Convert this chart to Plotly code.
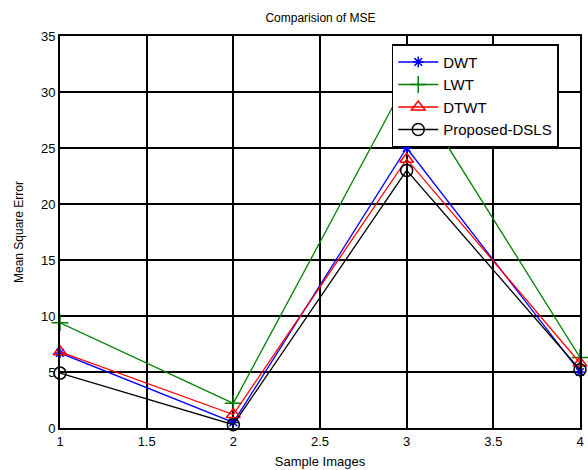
import plotly.graph_objects as go

samples = [1, 2, 3, 4]
dwt = [6.7, 0.5, 25.0, 5.0]
lwt = [9.4, 2.2, 31.0, 6.3]
dtwt = [6.8, 1.2, 24.0, 5.8]
proposed = [4.9, 0.3, 23.0, 5.2]

series = [
    ("DWT", dwt, "blue", "asterisk-open", 9),
    ("LWT", lwt, "green", "cross-thin-open", 12),
    ("DTWT", dtwt, "red", "triangle-up-open", 12),
    ("Proposed-DSLS", proposed, "black", "circle-open", 12),
]

fig = go.Figure()
for name, vals, color, sym, sz in series:
    fig.add_trace(go.Scatter(
        x=samples, y=vals, name=name, mode="lines+markers",
        line=dict(color=color, width=1.3),
        marker=dict(symbol=sym, size=sz, color=color, line=dict(color=color, width=1.5)),
        cliponaxis=False,
    ))

font = "Liberation Sans, Arial, sans-serif"
fig.update_layout(
    width=588, height=470,
    margin=dict(l=60, r=8, t=36, b=42),
    paper_bgcolor="white", plot_bgcolor="white",
    font=dict(family=font, size=13, color="black"),
    title=dict(text="Comparision of MSE", x=0.545, xanchor="center", y=0.962, yanchor="middle",
               font=dict(size=12, family=font, color="black")),
    xaxis=dict(range=[1, 4], dtick=0.5, tick0=1, showgrid=True, gridcolor="black", gridwidth=1.5,
               showline=True, linecolor="black", linewidth=2, mirror=True, zeroline=False,
               ticks="", ticklen=0, tickfont=dict(size=13), automargin=False,
               title=dict(text="Sample Images", font=dict(size=13), standoff=9)),
    yaxis=dict(range=[0, 35], dtick=5, tick0=0, showgrid=True, gridcolor="black", gridwidth=1.5,
               showline=True, linecolor="black", linewidth=2, mirror=True, zeroline=False,
               ticks="", ticklen=0, tickfont=dict(size=13), automargin=False,
               title=dict(text="Mean Square Error", font=dict(size=12), standoff=15)),
    legend=dict(x=0.638, y=0.979, xanchor="left", yanchor="top", bgcolor="white",
                bordercolor="black", borderwidth=1.5, font=dict(size=15, family=font),
                itemwidth=40, tracegroupgap=0),
    showlegend=True,
)
fig.write_html("out.html", config={"displayModeBar": False},
               post_script="document.body.style.margin='0';")
